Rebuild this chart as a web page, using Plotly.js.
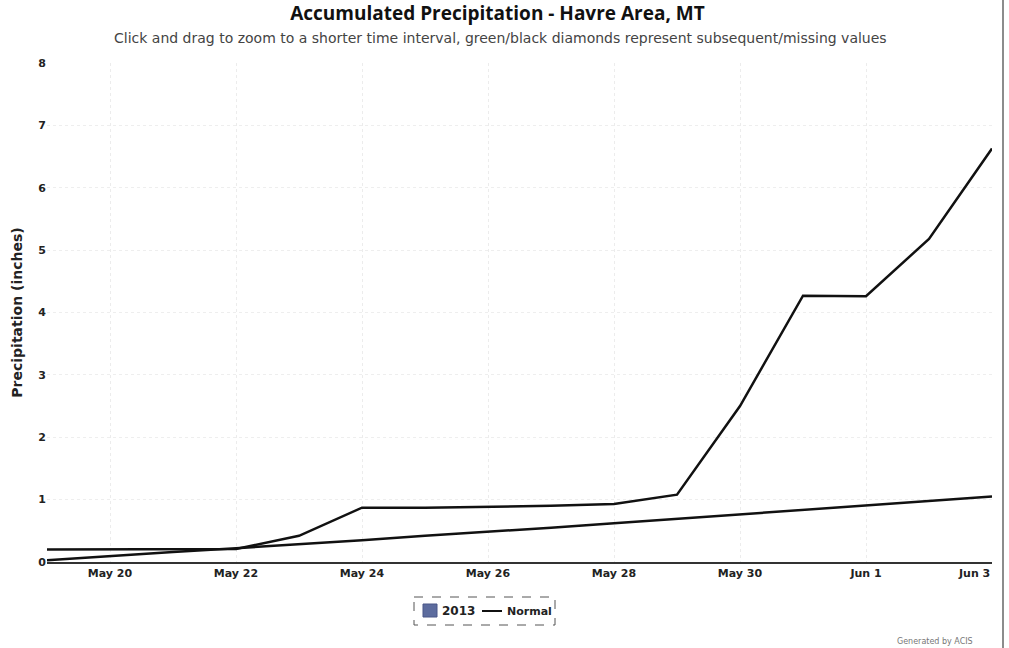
<!DOCTYPE html>
<html>
<head>
<meta charset="utf-8">
<script src="https://cdn.plot.ly/plotly-3.0.1.min.js"></script>
<style>html,body{margin:0;padding:0;background:#fff;}#chart{width:1009px;height:648px;}</style>
</head>
<body>
<div id="chart"></div>
<script>
var dates = ['2013-05-19','2013-05-20','2013-05-21','2013-05-22','2013-05-23','2013-05-24','2013-05-25','2013-05-26','2013-05-27','2013-05-28','2013-05-29','2013-05-30','2013-05-31','2013-06-01','2013-06-02','2013-06-03'];
var precip2013 = [0.20,0.20,0.20,0.21,0.42,0.87,0.87,0.88,0.90,0.93,1.08,2.50,4.27,4.26,5.18,6.63];
var normal = [0.03,0.10,0.16,0.22,0.28,0.35,0.42,0.48,0.55,0.62,0.69,0.76,0.83,0.90,0.97,1.05];
var tickDates = ['2013-05-20','2013-05-22','2013-05-24','2013-05-26','2013-05-28','2013-05-30','2013-06-01','2013-06-03'];
var tickLabels = ['May 20','May 22','May 24','May 26','May 28','May 30','Jun 1','Jun 3'];
var yTicks = [0,1,2,3,4,5,6,7,8];

var font = 'Open Sans, DejaVu Sans, sans-serif';
var font2 = 'DejaVu Sans, Verdana, sans-serif';
var nT = tickLabels.length;
// last label is pulled inside the plot (right-aligned to its tick), drawn as annotation
var axisTickText = tickLabels.slice(0, nT - 1).concat(['']);

var traces = [
  {x: dates, y: precip2013, type: 'scatter', mode: 'lines', name: '2013',
   line: {color: '#111111', width: 2.5}, showlegend: false, hoverinfo: 'x+y'},
  {x: dates, y: normal, type: 'scatter', mode: 'lines', name: 'Normal',
   line: {color: '#111111', width: 2.5}, showlegend: false, hoverinfo: 'x+y'}
];

var layout = {
  width: 1009, height: 648,
  margin: {l: 47, r: 17, t: 63, b: 86},
  paper_bgcolor: '#ffffff', plot_bgcolor: '#ffffff',
  font: {family: font2, color: '#222'},
  title: {text: '<b>Accumulated Precipitation - Havre Area, MT</b>', x: 0.493, xanchor: 'center', y: 0.99, yanchor: 'top',
          font: {size: 19, color: '#111', family: font}},
  xaxis: {type: 'date', range: ['2013-05-19','2013-06-03'], tickvals: tickDates, ticktext: axisTickText,
          showgrid: true, gridcolor: '#ececec', griddash: 'dot', gridwidth: 1,
          showline: true, linecolor: '#333', linewidth: 1.5, ticks: '', zeroline: false,
          tickfont: {size: 11, color: '#222', family: font2, weight: 'bold'}, fixedrange: true},
  yaxis: {range: [0, 8], tickvals: yTicks, showgrid: true, gridcolor: '#eeeeee', griddash: 'dot',
          zeroline: false, showline: false, ticks: '',
          tickfont: {size: 11, color: '#222', family: font2, weight: 'bold'},
          title: {text: '<b>Precipitation (inches)</b>', font: {size: 14, color: '#222', family: font2}, standoff: 12}},
  showlegend: false,
  annotations: [
    {text: 'Click and drag to zoom to a shorter time interval, green/black diamonds represent subsequent/missing values',
     xref: 'paper', yref: 'paper', x: 0.48, y: 1.05, xanchor: 'center', yanchor: 'middle', showarrow: false,
     font: {size: 14, color: '#444', family: font2}},
    {text: '<b>' + tickLabels[nT - 1] + '</b>', xref: 'x', yref: 'paper', x: tickDates[nT - 1], y: -(573-562)/499,
     xanchor: 'right', yanchor: 'middle', showarrow: false, font: {size: 11, color: '#222', family: font2}},
    {text: '<b>2013</b>', xref: 'paper', yref: 'paper', x: (440-47)/945, y: -(611-562)/499, xanchor: 'left', yanchor: 'middle',
     showarrow: false, font: {size: 12, color: '#222', family: font2}},
    {text: '<b>Normal</b>', xref: 'paper', yref: 'paper', x: (505-47)/945, y: -(611-562)/499, xanchor: 'left', yanchor: 'middle',
     showarrow: false, font: {size: 11, color: '#222', family: font2}},
    {text: 'Generated by ACIS', xref: 'paper', yref: 'paper', x: (975-47)/945, y: -(641-562)/499, xanchor: 'right', yanchor: 'middle',
     showarrow: false, font: {size: 8, color: '#777', family: font2}}
  ],
  shapes: [
    {type: 'rect', xref: 'paper', yref: 'paper', x0: (414-47)/945, x1: (555-47)/945, y0: -(597-562)/499, y1: -(625-562)/499,
     line: {color: '#555', width: 1, dash: 'dash'}, fillcolor: 'rgba(0,0,0,0)'},
    {type: 'rect', xref: 'paper', yref: 'paper', x0: (423-47)/945, x1: (437-47)/945, y0: -(604-562)/499, y1: -(617-562)/499,
     line: {color: '#4a5788', width: 1}, fillcolor: '#5d6c9e'},
    {type: 'line', xref: 'paper', yref: 'paper', x0: (482-47)/945, x1: (502-47)/945, y0: -(611-562)/499, y1: -(611-562)/499,
     line: {color: '#111', width: 2}},
    {type: 'line', xref: 'paper', yref: 'paper', x0: (1003-47)/945, x1: (1003-47)/945, y0: -86/499, y1: (648-86)/499,
     line: {color: '#666', width: 1.5}}
  ]
};

Plotly.newPlot('chart', traces, layout, {displayModeBar: false, staticPlot: true});
</script>
</body>
</html>
